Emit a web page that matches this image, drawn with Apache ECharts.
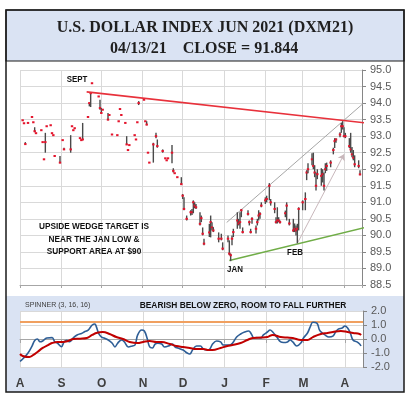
<!DOCTYPE html>
<html>
<head>
<meta charset="utf-8">
<script src="https://cdn.jsdelivr.net/npm/echarts@6/dist/echarts.min.js"></script>
<style>html,body{margin:0;padding:0;background:#fff}#main{width:410px;height:399px}</style>
</head>
<body>
<div id="main"></div>
<script>
// daily bars of the June contract (high / low / close)
var dates = [
  '2020-08-03','2020-08-04','2020-08-05','2020-08-07','2020-08-10','2020-08-11','2020-08-12','2020-08-13','2020-08-17','2020-08-18','2020-08-19','2020-08-20','2020-08-21','2020-08-24','2020-08-25','2020-08-26','2020-08-27','2020-08-31',
  '2020-09-02','2020-09-03','2020-09-08','2020-09-09','2020-09-10','2020-09-11','2020-09-15','2020-09-16','2020-09-17','2020-09-21','2020-09-22','2020-09-23','2020-09-24','2020-09-29','2020-09-30',
  '2020-10-01','2020-10-02','2020-10-06','2020-10-07','2020-10-09','2020-10-13','2020-10-14','2020-10-15','2020-10-16','2020-10-19','2020-10-20','2020-10-21','2020-10-22','2020-10-26','2020-10-27','2020-10-28','2020-10-29',
  '2020-11-02','2020-11-03','2020-11-04','2020-11-05','2020-11-06','2020-11-09','2020-11-11','2020-11-12','2020-11-16','2020-11-18','2020-11-19','2020-11-20','2020-11-23','2020-11-24','2020-11-25','2020-11-27','2020-11-30',
  '2020-12-01','2020-12-02','2020-12-04','2020-12-07','2020-12-08','2020-12-09','2020-12-10','2020-12-11','2020-12-14','2020-12-15','2020-12-16','2020-12-17','2020-12-21','2020-12-22','2020-12-23','2020-12-24','2020-12-28','2020-12-30','2020-12-31',
  '2021-01-04','2021-01-05','2021-01-06','2021-01-07','2021-01-08','2021-01-11','2021-01-12','2021-01-13','2021-01-14','2021-01-15','2021-01-19','2021-01-20','2021-01-21','2021-01-22','2021-01-25','2021-01-26','2021-01-27','2021-01-28','2021-01-29',
  '2021-02-01','2021-02-02','2021-02-04','2021-02-05','2021-02-08','2021-02-09','2021-02-10','2021-02-11','2021-02-12','2021-02-16','2021-02-17','2021-02-19','2021-02-22','2021-02-23','2021-02-24','2021-02-25','2021-02-26',
  '2021-03-01','2021-03-03','2021-03-04','2021-03-05','2021-03-08','2021-03-09','2021-03-10','2021-03-11','2021-03-12','2021-03-15','2021-03-16','2021-03-17','2021-03-18','2021-03-19','2021-03-22','2021-03-24','2021-03-25','2021-03-26','2021-03-29','2021-03-30','2021-03-31',
  '2021-04-01','2021-04-02','2021-04-05','2021-04-06','2021-04-07','2021-04-08','2021-04-09','2021-04-12','2021-04-13'
];
var highs = [
  93.48,93.39,92.82,93.40,93.58,93.42,93.27,93.09,93.18,92.82,92.30,93.10,93.30,93.33,93.09,93.03,92.40,92.40,
  92.88,92.65,93.03,93.30,93.18,93.24,92.94,92.88,93.40,93.58,94.00,94.33,94.60,94.20,94.10,
  93.85,93.80,93.70,93.64,93.05,93.03,93.45,93.82,93.64,93.40,93.00,92.58,92.73,93.03,92.90,93.42,94.06,
  94.10,93.45,93.45,92.50,92.20,92.80,93.10,92.90,92.60,92.33,92.27,92.33,92.73,92.03,91.88,91.76,91.76,
  91.25,91.15,90.60,90.76,90.80,91.06,91.00,90.95,90.70,90.60,90.24,89.90,90.35,90.60,90.40,90.25,90.09,90.05,89.79,
  90.00,89.85,89.45,90.00,90.20,90.70,90.50,90.70,90.80,90.24,90.76,90.45,90.20,90.55,90.30,90.50,90.76,90.70,91.00,
  91.15,91.20,91.58,91.10,91.00,90.55,90.85,90.55,90.45,90.75,91.00,90.50,90.50,90.36,90.30,90.35,90.85,
  91.06,91.30,91.97,92.18,92.48,92.50,92.12,91.90,92.00,92.03,92.00,91.90,92.18,92.20,92.27,92.65,92.94,92.94,93.12,93.40,93.45,
  93.27,93.10,92.94,93.10,92.67,92.58,92.42,92.27,91.97
];
var lows = [
  93.48,93.39,92.76,93.40,93.58,93.42,93.12,93.09,93.18,92.82,92.30,92.50,93.30,93.33,93.09,93.03,92.40,92.18,
  92.88,92.60,92.50,93.30,93.18,93.24,92.94,92.88,92.88,93.58,93.90,93.88,94.60,94.20,93.80,
  93.70,93.80,93.48,93.64,93.05,93.03,93.45,93.82,93.64,93.40,92.75,92.58,92.73,93.03,92.90,93.42,93.94,
  94.10,93.45,93.33,92.50,92.20,92.20,92.94,92.65,92.50,92.33,92.27,92.33,92.18,91.90,91.88,91.76,91.52,
  91.10,90.76,90.45,90.60,90.62,90.67,90.82,90.80,90.30,90.40,90.00,89.70,89.95,89.94,90.15,90.10,89.79,89.85,89.55,
  89.79,89.40,89.22,89.70,89.95,90.20,90.30,90.20,90.55,90.06,90.60,90.30,90.06,90.35,90.06,90.30,90.45,90.50,90.85,
  90.95,91.00,91.06,90.90,90.67,90.36,90.36,90.40,90.36,90.55,90.45,90.30,90.10,90.10,90.00,89.76,90.15,
  90.76,90.76,91.67,91.88,92.12,92.00,91.76,91.36,91.70,91.50,91.60,91.36,91.88,91.95,92.06,92.45,92.64,92.80,92.97,93.10,93.20,
  92.97,92.94,92.64,92.50,92.36,92.27,92.06,92.03,91.82
];
var closes = [
  93.48,93.39,92.76,93.40,93.58,93.42,93.15,93.09,93.18,92.82,92.30,92.82,93.30,93.33,93.09,93.03,92.40,92.20,
  92.88,92.60,92.60,93.30,93.18,93.24,92.94,92.88,92.90,93.58,94.00,94.30,94.60,94.20,93.85,
  93.70,93.80,93.50,93.64,93.05,93.03,93.45,93.82,93.64,93.40,92.75,92.58,92.73,93.03,92.90,93.42,94.00,
  94.10,93.45,93.35,92.50,92.20,92.75,93.00,92.70,92.55,92.33,92.27,92.33,92.50,91.95,91.88,91.76,91.55,
  91.20,90.80,90.50,90.70,90.70,91.00,90.90,90.85,90.35,90.52,90.05,89.75,90.09,90.40,90.24,90.15,89.90,89.90,89.60,
  89.90,89.45,89.40,89.90,90.10,90.45,90.36,90.40,90.76,90.10,90.65,90.40,90.10,90.50,90.20,90.40,90.60,90.65,90.90,
  91.06,91.10,91.50,91.00,90.80,90.40,90.45,90.45,90.40,90.67,90.90,90.36,90.15,90.20,90.15,90.20,90.80,
  91.00,91.10,91.90,92.00,92.30,92.10,91.90,91.50,91.85,91.80,91.85,91.50,92.00,92.10,92.20,92.58,92.85,92.90,93.05,93.30,93.30,
  93.00,93.00,92.70,92.60,92.45,92.35,92.15,92.10,91.844
];

// hand-drawn trend lines [date, price]
var redTrend = [['2020-09-20', 94.34], ['2021-04-19', 93.39]];
var wedgeTop = [['2021-01-03', 90.39], ['2021-04-20', 94.15]];
var greenTrend = [['2021-01-05', 89.24], ['2021-04-20', 90.27]];
var arrowLine = [['2021-02-25', 89.76], ['2021-04-01', 92.45]];

// spinner (3, 16, 16)
var blueDates = [
  '2020-08-01','2020-08-03','2020-08-07','2020-08-10','2020-08-12','2020-08-14','2020-08-16','2020-08-18','2020-08-21','2020-08-25','2020-08-27','2020-08-29',
  '2020-09-01','2020-09-03','2020-09-05','2020-09-07','2020-09-10','2020-09-13','2020-09-16','2020-09-18','2020-09-21','2020-09-24','2020-09-26','2020-09-27','2020-09-29',
  '2020-10-01','2020-10-03','2020-10-06','2020-10-09','2020-10-11','2020-10-13','2020-10-16','2020-10-18','2020-10-21','2020-10-24','2020-10-26','2020-10-28','2020-10-31',
  '2020-11-02','2020-11-04','2020-11-06','2020-11-08','2020-11-10','2020-11-12','2020-11-15','2020-11-17','2020-11-20','2020-11-23','2020-11-25','2020-11-27',
  '2020-12-01','2020-12-04','2020-12-06','2020-12-08','2020-12-11','2020-12-14','2020-12-16','2020-12-19','2020-12-21','2020-12-23','2020-12-26','2020-12-29','2020-12-31',
  '2021-01-03','2021-01-05','2021-01-07','2021-01-10','2021-01-13','2021-01-16','2021-01-19','2021-01-21','2021-01-23','2021-01-25','2021-01-28','2021-01-30',
  '2021-02-02','2021-02-04','2021-02-06','2021-02-09','2021-02-12','2021-02-14','2021-02-17','2021-02-19','2021-02-21','2021-02-24','2021-02-27',
  '2021-03-01','2021-03-04','2021-03-06','2021-03-08','2021-03-11','2021-03-13','2021-03-15','2021-03-17','2021-03-20','2021-03-23','2021-03-25','2021-03-27','2021-03-30',
  '2021-04-01','2021-04-03','2021-04-05','2021-04-07','2021-04-10','2021-04-12','2021-04-13'
];
var blueVals = [
  -1.60,-1.43,-1.00,-0.50,-0.10,0.00,-0.20,-0.14,0.07,0.10,-0.20,-0.30,
  -0.55,-0.20,-0.10,-0.20,0.10,0.30,0.40,0.50,0.64,1.00,1.07,0.90,0.36,
  0.14,0.07,-0.07,-0.30,-0.57,-0.30,-0.07,-0.20,-0.57,-0.50,-0.43,0.29,0.64,
  0.57,0.07,-0.57,-0.64,-0.36,-0.30,-0.36,-0.57,-0.50,-0.36,-0.57,-0.64,
  -0.79,-1.00,-1.07,-0.79,-0.50,-0.50,-0.71,-0.79,-0.71,-0.36,-0.14,-0.21,-0.43,
  -0.43,-0.43,-0.29,0.14,0.36,0.50,0.57,0.36,0.07,0.10,0.07,0.29,
  0.50,0.64,0.50,0.14,-0.21,-0.25,-0.21,-0.07,-0.21,-0.50,-0.29,
  0.07,0.43,0.86,1.20,1.14,0.64,0.43,0.29,0.14,0.21,0.50,0.71,0.79,
  0.93,0.79,0.43,-0.07,-0.21,-0.36,-0.50
];
var redDates = [
  '2020-08-01','2020-08-03','2020-08-08','2020-08-11','2020-08-14','2020-08-18','2020-08-22','2020-08-25','2020-08-29',
  '2020-09-02','2020-09-06','2020-09-10','2020-09-15','2020-09-20','2020-09-24','2020-09-27',
  '2020-10-02','2020-10-07','2020-10-12','2020-10-17','2020-10-22','2020-10-28',
  '2020-11-01','2020-11-06','2020-11-11','2020-11-15','2020-11-21','2020-11-26',
  '2020-12-01','2020-12-06','2020-12-11','2020-12-16','2020-12-20','2020-12-23','2020-12-29',
  '2021-01-03','2021-01-07','2021-01-13','2021-01-18','2021-01-22','2021-01-28',
  '2021-02-02','2021-02-06','2021-02-12','2021-02-17','2021-02-21','2021-02-27',
  '2021-03-04','2021-03-08','2021-03-14','2021-03-19','2021-03-23','2021-03-29',
  '2021-04-03','2021-04-07','2021-04-12','2021-04-13'
];
var redVals = [
  -1.07,-1.21,-1.29,-1.14,-0.93,-0.64,-0.43,-0.29,-0.21,
  -0.21,-0.14,0.00,0.02,0.07,0.29,0.43,
  0.50,0.36,0.14,0.00,-0.21,-0.29,
  -0.21,-0.14,-0.21,-0.21,-0.36,-0.50,
  -0.57,-0.64,-0.71,-0.71,-0.79,-0.79,-0.64,
  -0.50,-0.43,-0.29,-0.07,0.07,0.10,
  0.14,0.29,0.14,0.10,0.07,-0.07,
  -0.07,0.14,0.36,0.43,0.50,0.57,
  0.50,0.43,0.36,0.28
];
var spinnerLimit = 1.25;
var monthLetters = ['J','F','M','A','M','J','J','A','S','O','N','D'];

// no condensed font installed, so squeeze Liberation Sans a little
var SANS = "'Liberation Sans', sans-serif";

var bars = dates.map(function (d, i) { return [d, highs[i], lows[i], closes[i]]; });
var blue = blueDates.map(function (d, i) { return [d, blueVals[i]]; });
var red = redDates.map(function (d, i) { return [d, redVals[i]]; });

function renderBar(params, api) {
  var x = api.value(0);
  var pH = api.coord([x, api.value(1)]);
  var pL = api.coord([x, api.value(2)]);
  var pC = api.coord([x, api.value(3)]);
  var kids = [];
  if (pL[1] - pH[1] > 0.5) {
    kids.push({ type: 'line', shape: { x1: pH[0], y1: pH[1], x2: pL[0], y2: pL[1] },
      style: { stroke: '#4a4a4a', lineWidth: 1.4 } });
  }
  kids.push({ type: 'rect', shape: { x: pC[0] - 1.2, y: pC[1] - 1, width: 2.4, height: 2 },
    style: { fill: '#e4142c' } });
  return { type: 'group', children: kids };
}

function note(x, y, text, font, color, align, squeeze) {
  return { type: 'text', z: 50, x: x, y: y, scaleX: squeeze || 1,
    style: { text: text, font: font, fill: color, align: align || 'center', verticalAlign: 'middle', lineHeight: 12.5 } };
}

var chart = echarts.init(document.getElementById('main'));
var DAY = 86400000;
var xMin = '2020-08-01', xMax = '2021-04-14 12:00';

chart.setOption({
  animation: false,
  graphic: [
    { type: 'rect', z: -20, shape: { x: 6, y: 10, width: 398, height: 382 }, style: { fill: '#fff' } },
    { type: 'rect', z: -19, shape: { x: 6, y: 10, width: 398, height: 51 }, style: { fill: '#dae3f3', stroke: '#1a1a1a', lineWidth: 1.2 } },
    { type: 'rect', z: -19, shape: { x: 6, y: 296, width: 398, height: 96 }, style: { fill: '#dae3f3' } },
    { type: 'rect', z: 50, shape: { x: 6, y: 10, width: 398, height: 382 }, style: { fill: 'none', stroke: '#1a1a1a', lineWidth: 1.5 } },
    note(205, 28, 'U.S. DOLLAR INDEX JUN 2021 (DXM21)', "bold 16px 'Liberation Serif'", '#1f1f1f'),
    note(204, 49, '04/13/21    CLOSE = 91.844', "bold 16px 'Liberation Serif'", '#1f1f1f'),
    note(77, 80, 'SEPT', 'bold 9px ' + SANS, '#111', 'center', 0.88),
    note(235, 270, 'JAN', 'bold 9px ' + SANS, '#111', 'center', 0.88),
    note(295, 253, 'FEB', 'bold 9px ' + SANS, '#111', 'center', 0.88),
    note(94, 239, 'UPSIDE WEDGE TARGET IS\nNEAR THE JAN LOW &\nSUPPORT AREA AT $90', 'bold 9.5px ' + SANS, '#111', 'center', 0.87),
    note(25, 305, 'SPINNER (3, 16, 16)', '8px ' + SANS, '#404040', 'left', 0.88),
    note(243, 305, 'BEARISH BELOW ZERO, ROOM TO FALL FURTHER', 'bold 9.5px ' + SANS, '#111', 'center', 0.88)
  ],
  grid: [
    { left: 20, right: 48, top: 70, height: 215 },
    { left: 20, right: 47, top: 311, height: 56, show: true, backgroundColor: '#fff', borderWidth: 0 }
  ],
  xAxis: [
    { type: 'time', gridIndex: 0, min: xMin, max: xMax, splitNumber: 9, minInterval: 28 * DAY, maxInterval: 31 * DAY,
      axisLine: { lineStyle: { color: '#a6a6a6' } },
      axisTick: { show: true, length: 3, lineStyle: { color: '#a6a6a6' } },
      axisLabel: { show: false },
      splitLine: { show: true, lineStyle: { color: '#d9d9d9' } } },
    { type: 'time', gridIndex: 1, min: xMin, max: xMax, splitNumber: 9, minInterval: 28 * DAY, maxInterval: 31 * DAY,
      axisLine: { lineStyle: { color: '#a6a6a6' } },
      axisTick: { show: true, length: 4, lineStyle: { color: '#a6a6a6' } },
      axisLabel: { margin: 11, color: '#404040', fontSize: 12, fontWeight: 'bold', fontFamily: 'Liberation Sans',
        formatter: function (v) { return monthLetters[new Date(v).getMonth()]; } },
      splitLine: { show: true, lineStyle: { color: '#d9d9d9' } } }
  ],
  yAxis: [
    { type: 'value', gridIndex: 0, position: 'right', min: 88.5, max: 95, interval: 0.5,
      axisLine: { show: true, lineStyle: { color: '#868686' } },
      axisTick: { show: true, length: 4, lineStyle: { color: '#868686' } },
      axisLabel: { margin: 8, color: '#595959', fontSize: 11, fontFamily: 'Liberation Sans', formatter: function (v) { return v.toFixed(1); } },
      splitLine: { lineStyle: { color: '#d9d9d9' } } },
    { type: 'value', gridIndex: 1, position: 'right', min: -2, max: 2, interval: 1,
      axisLine: { show: true, lineStyle: { color: '#868686' } },
      axisTick: { show: true, length: 4, lineStyle: { color: '#868686' } },
      axisLabel: { margin: 8, color: '#595959', fontSize: 11, fontFamily: 'Liberation Sans', formatter: function (v) { return v.toFixed(1); } },
      splitLine: { lineStyle: { color: '#d9d9d9' } } }
  ],
  series: [
    { type: 'custom', xAxisIndex: 0, yAxisIndex: 0, renderItem: renderBar, data: bars,
      encode: { x: 0, y: [1, 2, 3] }, clip: true, z: 5 },
    { type: 'line', xAxisIndex: 0, yAxisIndex: 0, data: redTrend, showSymbol: false, clip: false,
      lineStyle: { color: '#e8313b', width: 1.6 }, z: 6 },
    { type: 'line', xAxisIndex: 0, yAxisIndex: 0, data: wedgeTop, showSymbol: false, clip: false,
      lineStyle: { color: '#a6a6a6', width: 1 }, z: 4 },
    { type: 'line', xAxisIndex: 0, yAxisIndex: 0, data: greenTrend, showSymbol: false, clip: false,
      lineStyle: { color: '#70ad47', width: 1.5 }, z: 4,
      markLine: { silent: true, symbol: ['none', 'arrow'], symbolSize: 6, label: { show: false },
        lineStyle: { color: '#c9b8bc', width: 1, type: 'solid' },
        data: [[{ coord: arrowLine[0] }, { coord: arrowLine[1] }]] } },
    { type: 'line', xAxisIndex: 1, yAxisIndex: 1, data: blue, showSymbol: false, smooth: 0.4,
      lineStyle: { color: '#2e5e96', width: 1.6 }, z: 5,
      markLine: { silent: true, symbol: 'none', label: { show: false },
        lineStyle: { color: '#f0a060', width: 2, type: 'solid' },
        data: [{ yAxis: spinnerLimit }] } },
    { type: 'line', xAxisIndex: 1, yAxisIndex: 1, data: red, showSymbol: false, smooth: 0.4,
      lineStyle: { color: '#c00000', width: 2 }, z: 6 }
  ]
});
</script>
</body>
</html>
